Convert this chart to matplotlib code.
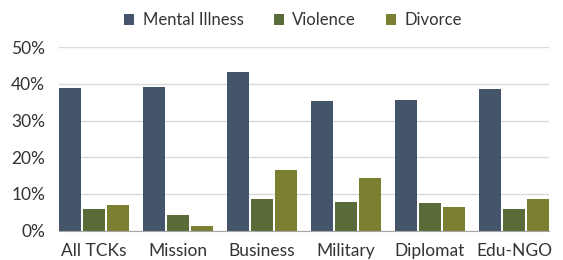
import numpy as np
import matplotlib.pyplot as plt

plt.rcParams['font.family'] = ['Lato', 'DejaVu Sans']

# Data (percent)
categories = ['All TCKs', 'Mission', 'Business', 'Military', 'Diplomat', 'Edu-NGO']
mental_illness = [38.9, 39.2, 43.3, 35.4, 35.7, 38.7]
violence = [5.9, 4.4, 8.6, 7.7, 7.5, 5.9]
divorce = [6.9, 1.4, 16.6, 14.3, 6.5, 8.6]

series = [('Mental Illness', mental_illness, '#44546a'),
          ('Violence', violence, '#5a6b3a'),
          ('Divorce', divorce, '#7b7f31')]

fig = plt.figure(figsize=(5.63, 2.6), dpi=100)
ax = fig.add_axes([0.1048, 0.1127, 0.8703, 0.7063])

x = np.arange(len(categories))
step = 0.2815
width = 0.262
for i, (name, vals, color) in enumerate(series):
    ax.bar(x + (i - 1) * step, vals, width, color=color, label=name, zorder=3)

ax.set_xlim(-0.4167, 5.4167)
ax.set_ylim(0, 50)
ax.set_yticks(range(0, 51, 10))
ax.set_yticklabels([f'{v}%' for v in range(0, 51, 10)])
ax.set_xticks(x)
ax.set_xticklabels(categories)

ax.grid(axis='y', color='#d9d9d9', linewidth=1, zorder=0)
for s in ['top', 'right', 'left']:
    ax.spines[s].set_visible(False)
ax.spines['bottom'].set_color('#a6a6a6')
ax.spines['bottom'].set_zorder(4)
ax.tick_params(axis='both', length=0, labelsize=12.5, colors='#333333')
ax.tick_params(axis='y', pad=10)
ax.tick_params(axis='x', pad=9)

fig.legend(loc='center', bbox_to_anchor=(293 / 563, 1 - 20.5 / 260), ncol=3,
           frameon=False, fontsize=12, handlelength=0.6, handleheight=0.6,
           handletextpad=0.5, columnspacing=1.8, labelcolor='#333333')

fig.savefig('out.png', dpi=100)
